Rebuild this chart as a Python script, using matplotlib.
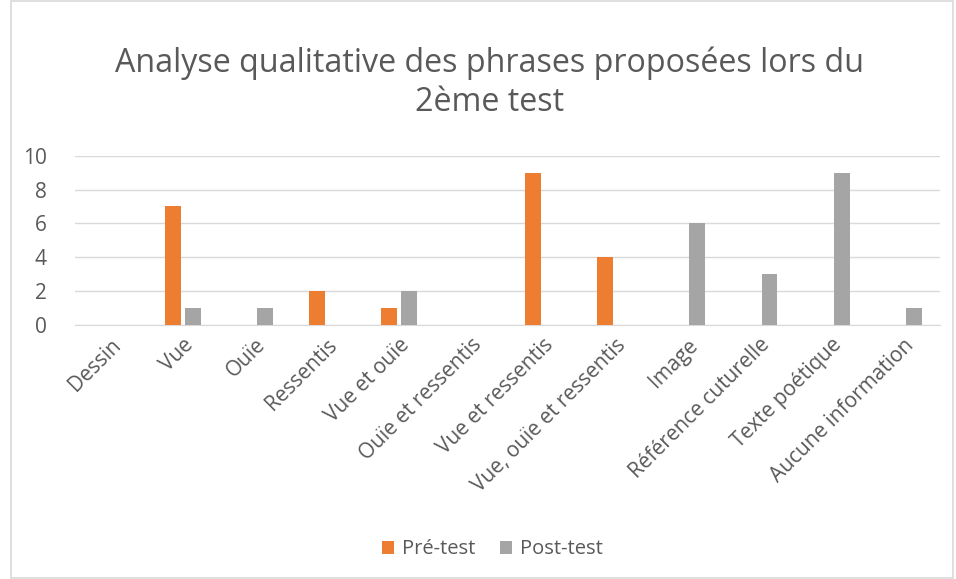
import matplotlib
matplotlib.use("Agg")
import matplotlib.pyplot as plt
import numpy as np
from matplotlib.patches import Rectangle

plt.rcParams['font.family'] = ['Open Sans', 'DejaVu Sans']

categories = ["Dessin", "Vue", "Ouïe", "Ressentis", "Vue et ouïe", "Ouïe et ressentis",
              "Vue et ressentis", "Vue, ouïe et ressentis", "Image", "Référence cuturelle",
              "Texte poétique", "Aucune information"]
pre_test = [0, 7, 0, 2, 1, 0, 9, 4, 0, 0, 0, 0]
post_test = [0, 1, 1, 0, 2, 0, 0, 0, 6, 3, 9, 1]
series_names = ["Pré-test", "Post-test"]
yticks = [0, 2, 4, 6, 8, 10]

fig = plt.figure(figsize=(9.56, 5.79), dpi=100)
ax = fig.add_axes([0.078, 0.439, 0.905, 0.292])

x = np.arange(len(categories))
w = 0.22
off = 0.139
ax.bar(x - off, pre_test, width=w, color="#ED7D31", label=series_names[0], zorder=3)
ax.bar(x + off, post_test, width=w, color="#A5A5A5", label=series_names[1], zorder=3)

ax.set_xlim(-0.5, len(categories) - 0.5)
ax.set_ylim(0, 10)
ax.set_yticks(yticks)
ax.yaxis.grid(True, color="#D9D9D9", linewidth=1.0, zorder=0)
for s in ["top", "right", "left"]:
    ax.spines[s].set_visible(False)
ax.spines["bottom"].set_color("#D9D9D9")
ax.tick_params(axis="both", length=0, colors="#595959", labelsize=15)
ax.tick_params(axis="y", pad=20)
ax.set_xticks(x)
ax.set_xticklabels(categories, rotation=45, ha="right", rotation_mode="anchor")
ax.tick_params(axis="x", pad=7)

fig.text(0.512, 0.857, "Analyse qualitative des phrases proposées lors du\n2ème test",
         ha="center", va="center", fontsize=23.2, color="#595959", linespacing=1.25)

leg = fig.legend(loc="center", bbox_to_anchor=(0.515, 0.051), ncol=2, frameon=False,
                 fontsize=14.5, handlelength=0.6, handleheight=0.6, columnspacing=1.2,
                 handletextpad=0.4)
for t in leg.get_texts():
    t.set_color("#595959")

fig.patches.append(Rectangle((0.012, 0.002), 0.985, 0.996, transform=fig.transFigure,
                             fill=False, edgecolor="#D9D9D9", linewidth=1.2))

fig.savefig("out.png", dpi=100)
